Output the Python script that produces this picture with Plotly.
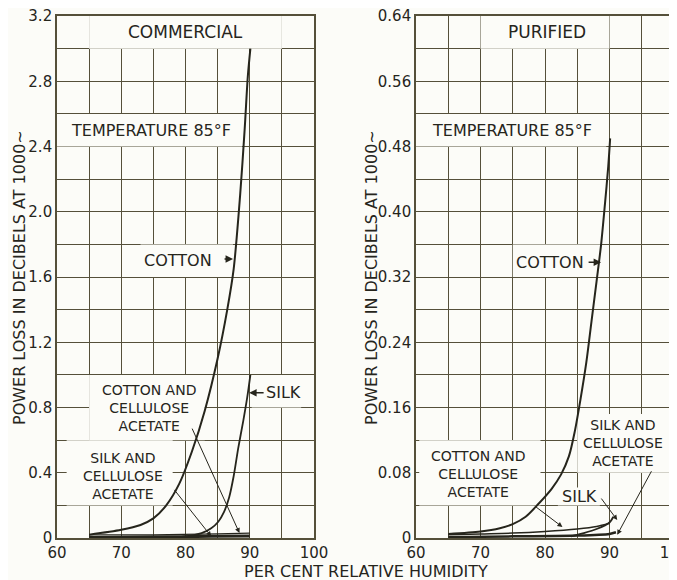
import plotly.graph_objects as go

# ---------------- data ----------------
humidity_ticks = [60, 70, 80, 90, 100]
humidity_tick_text = ["60", "70", "80", "90", "100"]

left_y_ticks = [0, 0.4, 0.8, 1.2, 1.6, 2.0, 2.4, 2.8, 3.2]
left_y_text = ["0", "0.4", "0.8", "1.2", "1.6", "2.0", "2.4", "2.8", "3.2"]
right_y_ticks = [0, 0.08, 0.16, 0.24, 0.32, 0.40, 0.48, 0.56, 0.64]
right_y_text = ["0", "0.08", "0.16", "0.24", "0.32", "0.40", "0.48", "0.56", "0.64"]

# Commercial
com_cotton_x = [65, 70, 73, 75, 77, 79, 81, 83, 85, 86.5, 87.5, 88.5, 89.2, 89.7, 90.1]
com_cotton_y = [0.02, 0.05, 0.08, 0.12, 0.2, 0.33, 0.53, 0.78, 1.1, 1.4, 1.65, 2.1, 2.5, 2.83, 3.0]
com_silk_x = [76, 80, 82.5, 84, 85.1, 86, 86.8, 87.5, 88.2, 89, 89.6, 90.1]
com_silk_y = [0.0, 0.01, 0.03, 0.06, 0.1, 0.16, 0.25, 0.38, 0.55, 0.72, 0.86, 1.0]
com_cca_x = [65, 75, 85, 90]
com_cca_y = [0.02, 0.02, 0.025, 0.03]
com_sca_x = [65, 75, 84, 90]
com_sca_y = [0.005, 0.007, 0.01, 0.012]

# Purified
pur_cotton_x = [65, 70, 73, 75, 77, 79, 81, 82.5, 83.7, 84.6, 85.5, 86.4, 87.2, 88, 88.7, 89.3, 89.8, 90.1]
pur_cotton_y = [0.005, 0.008, 0.012, 0.017, 0.026, 0.042, 0.06, 0.078, 0.1, 0.13, 0.17, 0.215, 0.265,
                0.315, 0.36, 0.41, 0.455, 0.49]
pur_cca_x = [65, 70, 75, 80, 85, 88, 90]
pur_cca_y = [0.004, 0.005, 0.006, 0.008, 0.011, 0.014, 0.018]
pur_silk_x = [84, 86, 88, 90, 90.6]
pur_silk_y = [0.002, 0.006, 0.011, 0.019, 0.026]
pur_sca_x = [65, 75, 85, 90, 91]
pur_sca_y = [0.001, 0.002, 0.003, 0.005, 0.007]

# ---------------- style ----------------
INK = "#26251c"
GRID = "#55503a"
BG = "#fcfcf8"
FONT = "DejaVu Sans"

# the page body adds an 8 px margin; map window pixels to paper fractions
W, H, OFF = 669, 572, 8
def px(X):
    return (X - OFF) / W
def py(Y):
    return 1 - (Y - OFF) / H

fig = go.Figure()

def line(x, y, xa, ya, w):
    fig.add_trace(go.Scatter(x=x, y=y, mode="lines", xaxis=xa, yaxis=ya,
                             line=dict(color=INK, width=w, shape="spline", smoothing=0.8),
                             showlegend=False, hoverinfo="skip"))

line(com_sca_x, com_sca_y, "x", "y", 3)
line(com_cca_x, com_cca_y, "x", "y", 1.2)
line(com_silk_x, com_silk_y, "x", "y", 1.8)
line(com_cotton_x, com_cotton_y, "x", "y", 2)
line(pur_sca_x, pur_sca_y, "x2", "y2", 2.5)
line(pur_cca_x, pur_cca_y, "x2", "y2", 1.5)
line(pur_silk_x, pur_silk_y, "x2", "y2", 1.8)
line(pur_cotton_x, pur_cotton_y, "x2", "y2", 2)

ydom = [py(538), py(16)]
common_x = dict(range=[60, 100], tickvals=humidity_ticks, ticktext=humidity_tick_text,
                showgrid=True, gridcolor=GRID, gridwidth=1.3,
                minor=dict(dtick=5, tick0=60, showgrid=True, gridcolor=GRID, gridwidth=1.3),
                showline=True, linecolor=GRID, linewidth=1.6, mirror=True,
                ticks="", zeroline=False, automargin=False, ticklabeloverflow="allow",
                tickfont=dict(family=FONT, size=15, color=INK))
common_y = dict(showgrid=True, gridcolor=GRID, gridwidth=1.3,
                showline=True, linecolor=GRID, linewidth=1.6, mirror=True,
                ticks="", zeroline=False, automargin=False, ticklabeloverflow="allow",
                tickfont=dict(family=FONT, size=15, color=INK))

fig.update_layout(
    width=W, height=H,
    margin=dict(l=0, r=0, t=0, b=0),
    paper_bgcolor=BG, plot_bgcolor=BG,
    xaxis=dict(domain=[px(57), px(314)], anchor="y", **common_x),
    yaxis=dict(domain=ydom, anchor="x", range=[0, 3.2], tickvals=left_y_ticks, ticktext=left_y_text,
               minor=dict(dtick=0.2, tick0=0, showgrid=True, gridcolor=GRID, gridwidth=1.3), **common_y),
    xaxis2=dict(domain=[px(416), px(674)], anchor="y2", **common_x),
    yaxis2=dict(domain=ydom, anchor="x2", range=[0, 0.64], tickvals=right_y_ticks, ticktext=right_y_text,
                minor=dict(dtick=0.04, tick0=0, showgrid=True, gridcolor=GRID, gridwidth=1.3), **common_y),
)

# white label openings in the grid
boxes = [
    ("x", "y", 65, 95, 3.0, 3.2), ("x", "y", 60, 88.8, 2.4, 2.6), ("x", "y", 73, 87.4, 1.6, 1.8),
    ("x", "y", 65, 83, 0.6, 1.0), ("x", "y", 61.5, 78, 0.2, 0.6), ("x", "y", 90.3, 98, 0.8, 1.0),
    ("x2", "y2", 70, 90, 0.6, 0.64), ("x2", "y2", 60, 89.5, 0.48, 0.52), ("x2", "y2", 75, 88.6, 0.32, 0.36),
    ("x2", "y2", 60.5, 79.3, 0.04, 0.12), ("x2", "y2", 85, 99.5, 0.08, 0.152), ("x2", "y2", 82, 88.5, 0.04, 0.062),
]
for xr, yr, x0, x1, y0, y1 in boxes:
    fig.add_shape(type="rect", xref=xr, yref=yr, x0=x0, x1=x1, y0=y0, y1=y1,
                  fillcolor=BG, line=dict(width=0), layer="between")

def label(text, x, y, xr, yr, size=16):
    fig.add_annotation(text=text, x=x, y=y, xref=xr, yref=yr, showarrow=False,
                       xanchor="center", yanchor="middle",
                       font=dict(family=FONT, size=size, color=INK), align="center")

def arrow(x, y, xr, yr, ax, ay, w=1):
    fig.add_annotation(text="", x=x, y=y, xref=xr, yref=yr, showarrow=True, ax=ax, ay=ay,
                       arrowhead=2, arrowsize=1, arrowwidth=w, arrowcolor=INK, standoff=0)

# left panel labels
label("COMMERCIAL", 80, 3.1, "x", "y", 17)
label("TEMPERATURE 85°F", 74.6, 2.5, "x", "y", 16)
label("COTTON", 78.8, 1.7, "x", "y", 16)
label("COTTON AND<br>CELLULOSE<br>ACETATE", 74.3, 0.8, "x", "y", 14)
label("SILK AND<br>CELLULOSE<br>ACETATE", 70.2, 0.38, "x", "y", 14)
label("SILK", 95.2, 0.89, "x", "y", 16)
arrow(87.4, 1.71, "x", "y", -10, 0, 1.5)
arrow(89.9, 0.89, "x", "y", 16, 0, 1.5)
arrow(88.4, 0.03, "x", "y", -48, -106)
arrow(84.0, 0.01, "x", "y", -38, -48)

# right panel labels
label("PURIFIED", 80.3, 0.62, "x2", "y2", 17)
label("TEMPERATURE 85°F", 74.9, 0.5, "x2", "y2", 16)
label("COTTON", 80.8, 0.338, "x2", "y2", 16)
label("COTTON AND<br>CELLULOSE<br>ACETATE", 69.6, 0.078, "x2", "y2", 14)
label("SILK AND<br>CELLULOSE<br>ACETATE", 92.1, 0.117, "x2", "y2", 14)
label("SILK", 85.3, 0.051, "x2", "y2", 16)
arrow(88.7, 0.338, "x2", "y2", -14, 0, 1.5)
arrow(82.7, 0.0135, "x2", "y2", -29, -22)
arrow(91.2, 0.022, "x2", "y2", -17, -23)
arrow(91.2, 0.004, "x2", "y2", 35, -65)

# axis titles
title = "POWER LOSS IN DECIBELS AT 1000~"
for X in (19, 371):
    fig.add_annotation(text=title, x=px(X), y=py(278), xref="paper", yref="paper",
                       xanchor="center", yanchor="middle",
                       showarrow=False, textangle=-90, font=dict(family=FONT, size=16, color=INK))
fig.add_annotation(text="PER CENT RELATIVE HUMIDITY", x=px(366), y=py(571),
                   xref="paper", yref="paper", showarrow=False,
                   xanchor="center", yanchor="middle",
                   font=dict(family=FONT, size=16, color=INK))

fig.write_html("out.html")
